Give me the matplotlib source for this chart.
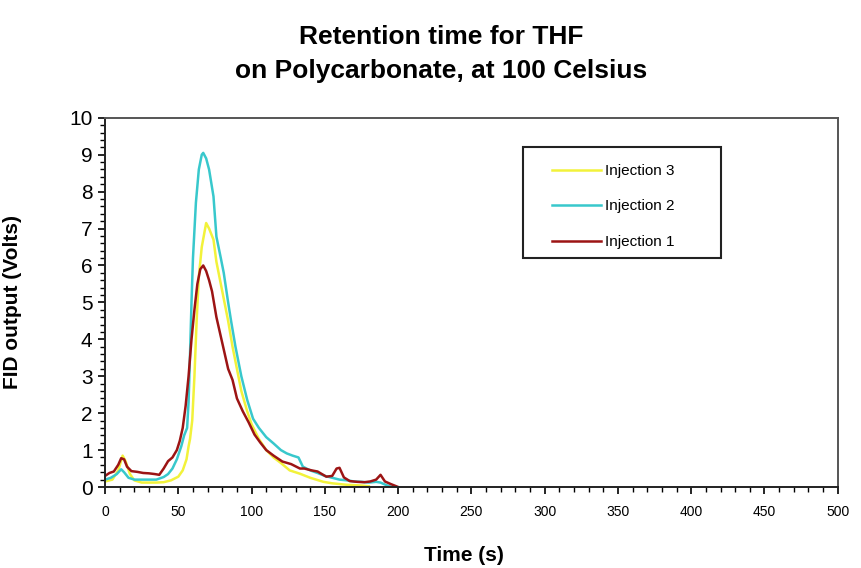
import matplotlib
matplotlib.use("Agg")
import matplotlib.pyplot as plt
from matplotlib.ticker import MultipleLocator
from matplotlib.patches import Rectangle

plt.rcParams['font.family'] = ['Liberation Sans', 'DejaVu Sans']

# Injection 1 (red)
t1 = [0, 3, 6, 9, 11, 13, 15, 18, 22, 26, 30, 34, 37, 40, 43, 46, 49, 51, 53,
      55, 57, 59, 61, 63, 65, 67, 69, 71, 73, 76, 80, 84, 87, 90, 94, 98, 102,
      106, 110, 115, 121, 127, 133, 136, 141, 145, 151, 155, 158, 160, 163,
      167, 172, 177, 181, 185, 188, 191, 195, 200]
v1 = [0.3, 0.38, 0.42, 0.6, 0.78, 0.75, 0.55, 0.43, 0.41, 0.38, 0.37, 0.35,
      0.33, 0.5, 0.7, 0.8, 1.0, 1.25, 1.6, 2.2, 3.0, 4.0, 4.8, 5.5, 5.9, 6.0,
      5.85, 5.6, 5.3, 4.6, 3.9, 3.2, 2.9, 2.4, 2.05, 1.75, 1.42, 1.2, 1.0,
      0.85, 0.69, 0.62, 0.5, 0.5, 0.45, 0.42, 0.28, 0.3, 0.5, 0.52, 0.26,
      0.16, 0.14, 0.13, 0.15, 0.2, 0.33, 0.15, 0.08, 0.0]

# Injection 2 (cyan)
t2 = [0, 4, 8, 11, 13, 16, 20, 25, 30, 35, 40, 43, 46, 49, 52, 54, 56, 57, 58,
      59, 60, 62, 64, 66, 67, 69, 71, 74, 76, 79, 81, 84, 86, 89, 93, 97, 101,
      105, 110, 115, 120, 124, 128, 132, 135, 140, 145, 150, 155, 160, 165,
      170, 175, 180, 185, 188, 192, 196]
v2 = [0.2, 0.25, 0.35, 0.48, 0.4, 0.25, 0.2, 0.2, 0.2, 0.2, 0.27, 0.35, 0.5,
      0.75, 1.1, 1.4, 1.6, 2.3, 3.6, 5.0, 6.2, 7.7, 8.6, 9.0, 9.05, 8.9, 8.6,
      7.87, 6.78, 6.2, 5.8, 5.0, 4.5, 3.8, 3.0, 2.36, 1.85, 1.6, 1.35, 1.18,
      1.0, 0.91, 0.85, 0.8, 0.55, 0.45, 0.38, 0.3, 0.25, 0.2, 0.18, 0.15,
      0.14, 0.12, 0.14, 0.12, 0.05, 0.0]

# Injection 3 (yellow)
t3 = [0, 5, 9, 12, 14, 17, 20, 25, 30, 35, 40, 45, 50, 53, 55.6, 57, 58, 59.5,
      61, 62.5, 64, 66, 69, 71, 74, 76, 78, 81, 84, 87, 90, 93, 97, 100, 105,
      110, 115, 120, 126, 133, 140, 149, 155, 165, 175, 180]
v3 = [0.15, 0.2, 0.45, 0.85, 0.7, 0.35, 0.18, 0.12, 0.12, 0.12, 0.13, 0.18,
      0.28, 0.45, 0.75, 1.1, 1.3, 1.8, 3.0, 4.5, 5.7, 6.5, 7.15, 7.0, 6.7,
      6.1, 5.7, 5.1, 4.5, 3.8, 3.2, 2.6, 2.05, 1.7, 1.3, 1.0, 0.8, 0.65,
      0.45, 0.36, 0.25, 0.14, 0.1, 0.06, 0.04, 0.02]

fig = plt.figure(figsize=(8.61, 5.68), dpi=100)
ax = fig.add_axes([0.122, 0.1426, 0.851, 0.65])

ax.plot(t3, v3, color="#f2f23a", linewidth=1.8, label="Injection 3")
ax.plot(t2, v2, color="#38c8cc", linewidth=1.8, label="Injection 2")
ax.plot(t1, v1, color="#9c1414", linewidth=1.8, label="Injection 1")

ax.set_xlim(0, 500)
ax.set_ylim(0, 10)
ax.xaxis.set_major_locator(MultipleLocator(50))
ax.xaxis.set_minor_locator(MultipleLocator(10))
ax.yaxis.set_major_locator(MultipleLocator(1))
ax.yaxis.set_minor_locator(MultipleLocator(0.2))
ax.tick_params(axis='x', which='major', labelsize=10, length=5, width=1.2, pad=8)
ax.tick_params(axis='y', which='major', labelsize=15, length=5, width=1.2, pad=4)
ax.tick_params(which='minor', length=3.5, width=1)

for s in ['left', 'bottom']:
    ax.spines[s].set_linewidth(1.4)
    ax.spines[s].set_color('#222222')
for s in ['top', 'right']:
    ax.spines[s].set_linewidth(1.4)
    ax.spines[s].set_color('#555555')

ax.set_xlabel("Time (s)", fontsize=15, fontweight='bold')
ax.set_ylabel("FID output (Volts)", fontsize=15, fontweight='bold')
ax.xaxis.set_label_coords(0.49, -0.16)
ax.yaxis.set_label_coords(-0.113, 0.5)

fig.text(0.512, 1 - 44 / 568, "Retention time for THF",
         ha='center', va='baseline', fontsize=19, fontweight='bold')
fig.text(0.512, 1 - 78 / 568, "on Polycarbonate, at 100 Celsius",
         ha='center', va='baseline', fontsize=19, fontweight='bold')

# legend box drawn separately so the padding matches the reference
ax.add_patch(Rectangle((0.570, 0.62), 0.270, 0.30, transform=ax.transAxes,
                       fill=True, facecolor='white', edgecolor='#222222',
                       linewidth=1.5, zorder=4))
leg = ax.legend(loc='lower left', bbox_to_anchor=(0.61, 0.645), fontsize=11,
                handlelength=3.2, handletextpad=0.3, labelspacing=1.4,
                borderpad=0, borderaxespad=0, frameon=False)
leg.set_zorder(5)

fig.savefig("out.png", dpi=100)
